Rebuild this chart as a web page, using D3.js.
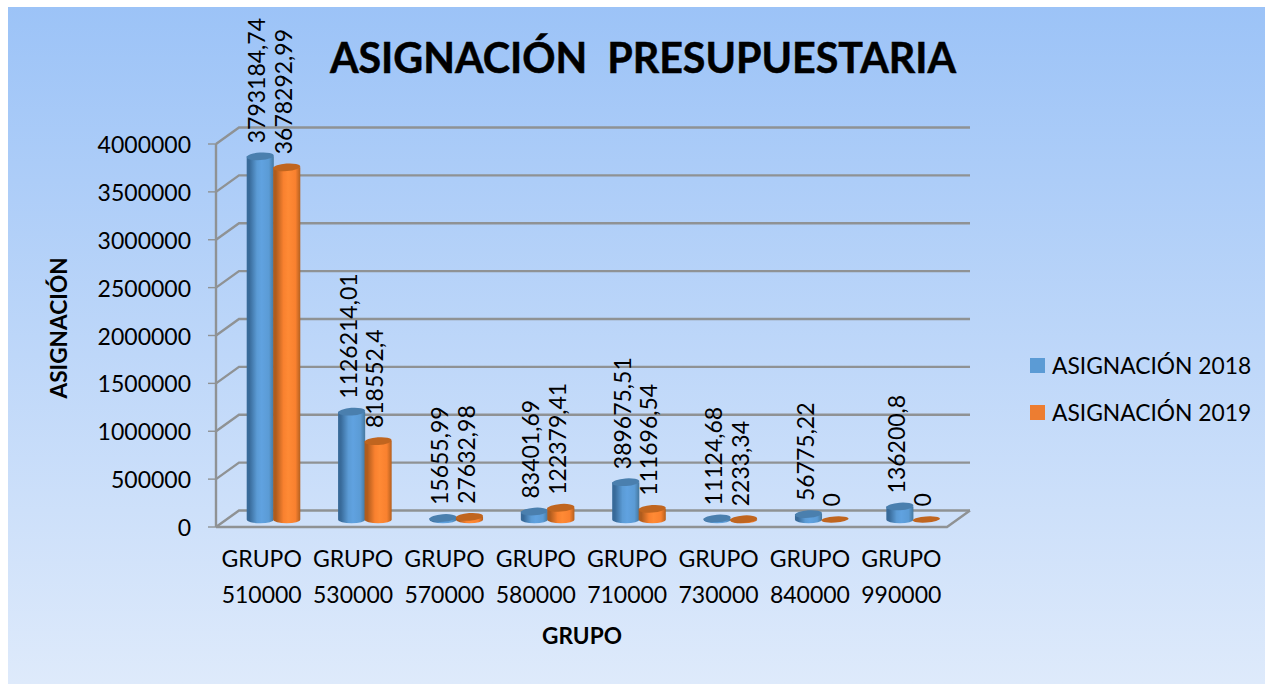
<!DOCTYPE html>
<html><head><meta charset="utf-8">
<style>html,body{margin:0;padding:0;background:#fff;overflow:hidden}svg{display:block}</style>
<script src="https://cdn.jsdelivr.net/npm/d3@7/dist/d3.min.js"></script></head>
<body><svg id="c" width="1265" height="684"></svg>
<script>
const categories=["510000","530000","570000","580000","710000","730000","840000","990000"];
const values2018=[3793184.74,1126214.01,15655.99,83401.69,389675.51,11124.68,56775.22,136200.8];
const values2019=[3678292.99,818552.4,27632.98,122379.41,111696.54,2233.34,0,0];
const labels2018=["3793184,74","1126214,01","15655,99","83401,69","389675,51","11124,68","56775,22","136200,8"];
const labels2019=["3678292,99","818552,4","27632,98","122379,41","111696,54","2233,34","0","0"];
const yTicks=[0,500000,1000000,1500000,2000000,2500000,3000000,3500000,4000000];
const seriesNames=["ASIGNACIÓN 2018","ASIGNACIÓN 2019"];
const FONT="Lato,sans-serif";
const HEAD="Lato,sans-serif";
const svg=d3.select("#c");
const defs=svg.append("defs");
const bg=defs.append("linearGradient").attr("id","bg").attr("x1",0).attr("x2",0).attr("y1",0).attr("y2",1);
bg.append("stop").attr("offset",0).attr("stop-color","#9cc3f7");
bg.append("stop").attr("offset",1).attr("stop-color","#deeafb");
function cyl(id,dark,mid,light,edge){
  const g=defs.append("linearGradient").attr("id",id);
  [[0,dark],[.1,dark],[.38,mid],[.55,light],[.82,mid],[1,edge]].forEach(s=>g.append("stop").attr("offset",s[0]).attr("stop-color",s[1]));
}
cyl("c0","#386a99","#5b9bd5","#60a2e0","#45789f");
cyl("c1","#b05c1d","#f9812f","#ff8a35","#b5601f");
const capColors=["#4a7fae","#c0651f"];
svg.append("rect").attr("x",8).attr("y",7).attr("width",1257).attr("height",677).attr("fill","url(#bg)");

const y=d3.scaleLinear().domain([0,4000000]).range([527,144]);
const dx=23,dy=-16.5,plotL=216,plotR=947;
const x=d3.scaleBand().domain(categories).range([plotL,plotR]);
const inner=d3.scaleBand().domain([0,1]).range([31,84]);
const grey="#8f9294";
const grid=svg.append("g").attr("fill","none").attr("stroke",grey).attr("stroke-width",2.4);
yTicks.forEach(t=>{
  grid.append("path").attr("d",d3.line()([[plotL,y(t)],[plotL+dx,y(t)+dy],[plotR+dx,y(t)+dy]]));
  grid.append("line").attr("x1",plotL-8).attr("x2",plotL).attr("y1",y(t)).attr("y2",y(t)).attr("stroke-width",1.4);
});
grid.append("line").attr("x1",plotL).attr("x2",plotL).attr("y1",y(4000000)).attr("y2",y(0));
grid.append("path").attr("d",d3.line()([[plotL,y(0)],[plotR,y(0)],[plotR+dx,y(0)+dy]]));

const base=y(0)-7.5, h=v=>y(0)-y(v);
function bar(v,i,c,s){
  const bw=inner.bandwidth(), xl=x(c)+inner(s), cx=xl+bw/2, top=base-h(v), g=svg.append("g");
  const rx=bw/2+0.3, ry=3.8, tilt=-4;
  if(v>0){
    g.append("path").attr("fill",`url(#c${s})`)
     .attr("d",`M${cx-rx},${top}L${cx-rx},${base}A${rx},${ry} 0 0 0 ${cx+rx},${base}L${cx+rx},${top}Z`);
    g.append("ellipse").attr("cx",cx).attr("cy",top).attr("rx",rx).attr("ry",ry)
     .attr("fill",capColors[s]).attr("transform",`rotate(${tilt} ${cx} ${top})`);
  } else {
    g.append("ellipse").attr("cx",cx).attr("cy",top).attr("rx",rx).attr("ry",3.1)
     .attr("fill",capColors[s]).attr("transform",`rotate(${tilt} ${cx} ${top})`);
  }
}
categories.forEach((c,i)=>{bar(values2018[i],i,c,0);bar(values2019[i],i,c,1);});

function label(v,t,c,s){
  const bw=inner.bandwidth(), cx=x(c)+inner(s)+bw/2, py=base-h(v)-13;
  svg.append("text").attr("transform",`translate(${cx+5},${py}) rotate(-90)`)
    .attr("font-family",FONT).attr("font-size",23).attr("fill","#000").text(t);
}
categories.forEach((c,i)=>{label(values2018[i],labels2018[i],c,0);label(values2019[i],labels2019[i],c,1);});

yTicks.forEach(t=>svg.append("text").attr("x",191).attr("y",y(t)+9).attr("text-anchor","end")
  .attr("font-family",FONT).attr("font-size",23).attr("fill","#000").text(t));
categories.forEach(c=>{
  const cx=x(c)+x.bandwidth()/2;
  svg.append("text").attr("x",cx).attr("y",567).attr("text-anchor","middle").attr("font-family",FONT).attr("font-size",23).text("GRUPO");
  svg.append("text").attr("x",cx).attr("y",603).attr("text-anchor","middle").attr("font-family",FONT).attr("font-size",23).text(c);
});
svg.append("text").attr("x",643).attr("y",73).attr("text-anchor","middle").attr("font-family",HEAD).attr("font-weight",700).attr("font-size",41.2).attr("stroke","#000").attr("stroke-width",0.5).style("white-space","pre").text("ASIGNACIÓN  PRESUPUESTARIA");
svg.append("text").attr("x",582).attr("y",644).attr("text-anchor","middle").attr("font-family",HEAD).attr("font-weight",700).attr("font-size",22.6).text("GRUPO");
svg.append("text").attr("transform","translate(67,328) rotate(-90)").attr("text-anchor","middle").attr("font-family",HEAD).attr("font-weight",700).attr("font-size",22.6).text("ASIGNACIÓN");
[0,1].forEach(s=>{
  const ly=[366,413][s];
  svg.append("rect").attr("x",1030).attr("y",ly-8).attr("width",15).attr("height",15).attr("fill",["#5b9bd5","#ed7d31"][s]);
  svg.append("text").attr("x",1052).attr("y",ly+8).attr("font-family",FONT).attr("font-size",22.8).text(seriesNames[s]);
});
</script></body></html>
